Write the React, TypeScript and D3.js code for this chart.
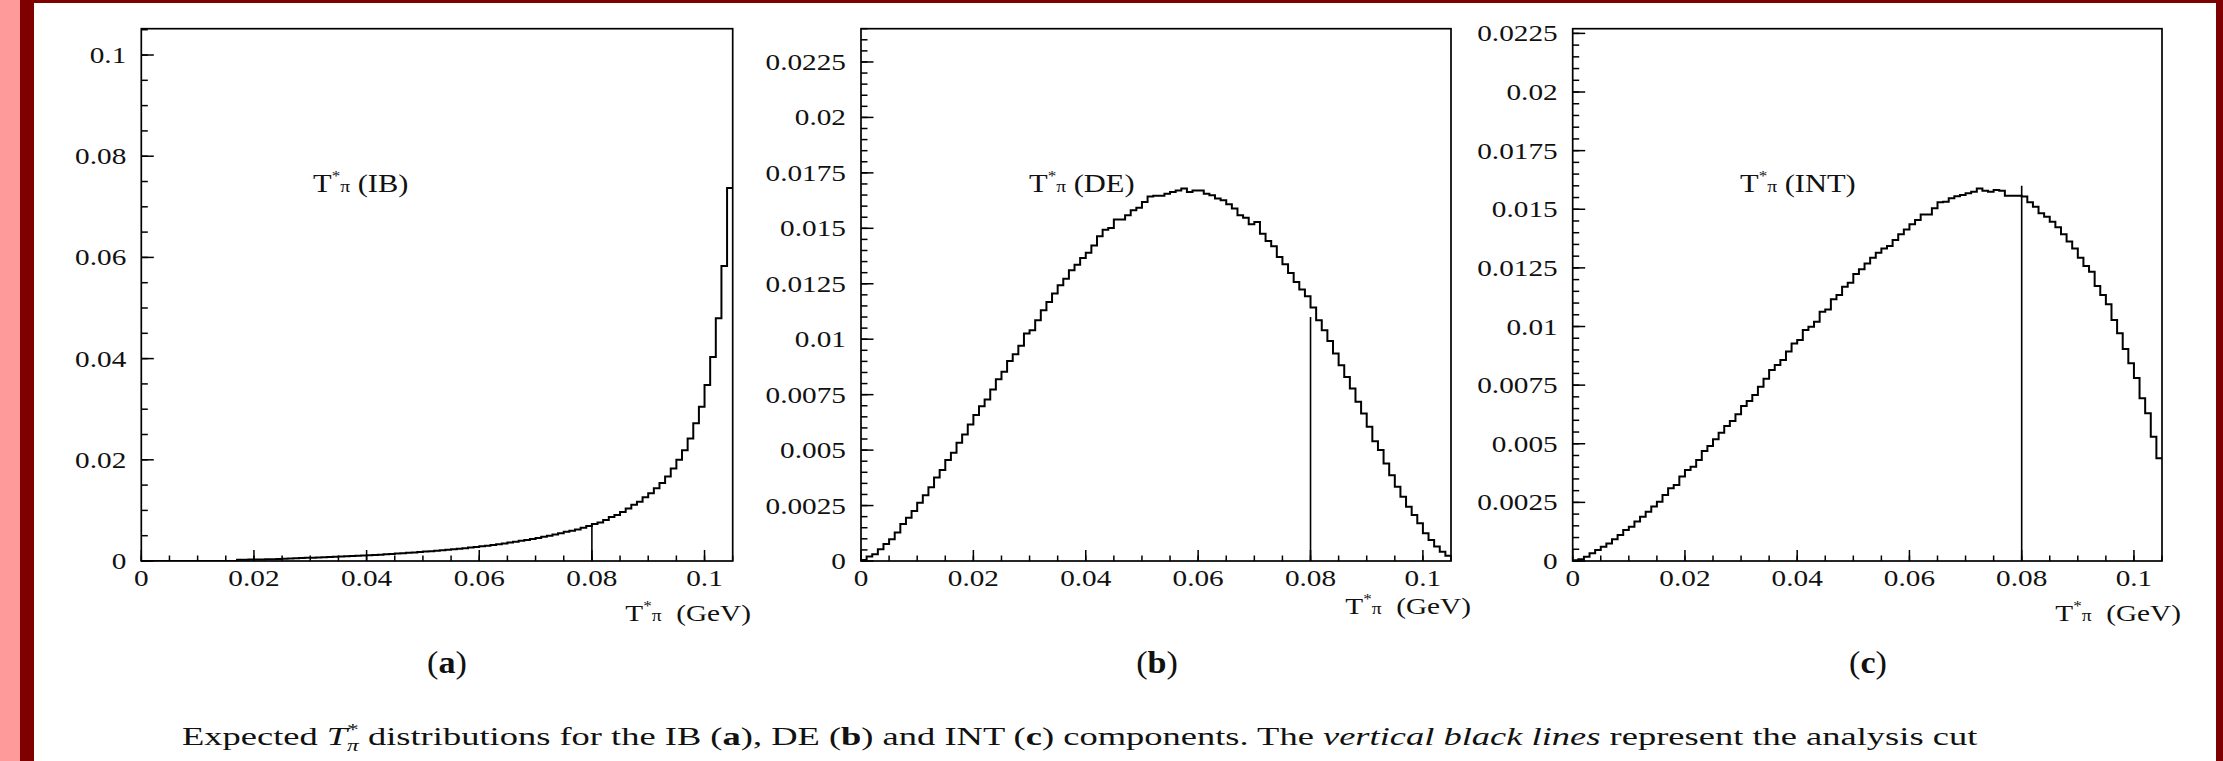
import React, { useRef, useLayoutEffect, useState } from "react";
import * as d3 from "d3";

// ---------------- data ----------------
const binWidth = 0.001; // GeV
const xTickValues = [0, 0.02, 0.04, 0.06, 0.08, 0.1];
const xTickLabels = ["0", "0.02", "0.04", "0.06", "0.08", "0.1"];

const ibYTicks = [0, 0.02, 0.04, 0.06, 0.08, 0.1];
const ibYLabels = ["0", "0.02", "0.04", "0.06", "0.08", "0.1"];
const smallYTicks = [0, 0.0025, 0.005, 0.0075, 0.01, 0.0125, 0.015, 0.0175, 0.02, 0.0225];
const smallYLabels = ["0", "0.0025", "0.005", "0.0075", "0.01", "0.0125", "0.015", "0.0175", "0.02", "0.0225"];

const ibValues = [
  0, 0, 0, 0, 0, 0, 0, 0, 0, 0,
  0, 0, 0, 0, 0, 0, 0, 0.00025, 0.00026, 0.00028,
  0.0003, 0.00032, 0.00034, 0.00037, 0.0004, 0.00043, 0.00047, 0.00055, 0.00058, 0.00062,
  0.00066, 0.0007, 0.00074, 0.00078, 0.00083, 0.00088, 0.00095, 0.001, 0.00105, 0.0011,
  0.00115, 0.0012, 0.00126, 0.00133, 0.0014, 0.00147, 0.00154, 0.00162, 0.0017, 0.00178,
  0.00186, 0.00194, 0.00203, 0.00212, 0.00222, 0.00232, 0.00243, 0.00254, 0.00266, 0.00278,
  0.0029, 0.00303, 0.00317, 0.00332, 0.00348, 0.00364, 0.0038, 0.00398, 0.00416, 0.00436,
  0.00456, 0.00478, 0.005, 0.00524, 0.0055, 0.00576, 0.006, 0.00625, 0.00655, 0.0069,
  0.0073, 0.0076, 0.0081, 0.0087, 0.0091, 0.0097, 0.0104, 0.0111, 0.0117, 0.0126,
  0.0134, 0.0144, 0.0154, 0.0167, 0.0183, 0.02, 0.0219, 0.0242, 0.0272, 0.0305,
  0.0348, 0.0403, 0.048, 0.0583, 0.0737,
];

const deValues = [
  0.00005, 0.0002, 0.0003, 0.00053, 0.00077, 0.00098, 0.00128, 0.00167, 0.00195, 0.00225,
  0.00263, 0.00297, 0.00332, 0.00377, 0.0041, 0.00455, 0.00488, 0.00533, 0.0057, 0.00616,
  0.00658, 0.00698, 0.00728, 0.00773, 0.0082, 0.00853, 0.00902, 0.00932, 0.0097, 0.01026,
  0.0104, 0.01086, 0.01131, 0.01168, 0.01206, 0.01243, 0.01273, 0.01311, 0.01336, 0.01366,
  0.0139, 0.01423, 0.01464, 0.01494, 0.01501, 0.0154, 0.0154, 0.01559, 0.01581, 0.01593,
  0.01619, 0.01644, 0.01647, 0.01647, 0.01656, 0.01664, 0.01671, 0.01679, 0.01664, 0.01671,
  0.01671, 0.01656, 0.01649, 0.01634, 0.01626, 0.01608, 0.01589, 0.01559, 0.01548, 0.01518,
  0.01528, 0.01476, 0.01443, 0.01419, 0.01371, 0.01338, 0.01299, 0.01258, 0.01224, 0.01194,
  0.01143, 0.01086, 0.0104, 0.00992, 0.00936, 0.00883, 0.0083, 0.00778, 0.00718, 0.00665,
  0.00605, 0.0054, 0.005, 0.0044, 0.00387, 0.00335, 0.0029, 0.00245, 0.00207, 0.0017,
  0.00125, 0.00095, 0.00065, 0.00042, 0.00024,
];

const intValues = [
  0.00003, 0.00007, 0.00018, 0.00033, 0.00047, 0.00061, 0.00075, 0.00093, 0.00111, 0.00132,
  0.00146, 0.00168, 0.00189, 0.0021, 0.00232, 0.00253, 0.00281, 0.0031, 0.00324, 0.0036,
  0.00388, 0.00402, 0.00431, 0.00469, 0.0049, 0.00519, 0.00547, 0.00576, 0.00597, 0.00626,
  0.00661, 0.00682, 0.00708, 0.00743, 0.00777, 0.00814, 0.00836, 0.00857, 0.00893, 0.00928,
  0.00942, 0.00985, 0.00999, 0.0102, 0.01063, 0.01073, 0.01116, 0.01134, 0.0117, 0.01187,
  0.01224, 0.01244, 0.01269, 0.01293, 0.01315, 0.01333, 0.01343, 0.01369, 0.01393, 0.01414,
  0.01436, 0.01454, 0.01478, 0.01478, 0.01504, 0.0153, 0.01532, 0.01547, 0.01556, 0.01561,
  0.01568, 0.01575, 0.01588, 0.01579, 0.01575, 0.01582, 0.01579, 0.01558, 0.01558, 0.01558,
  0.01554, 0.0153, 0.01511, 0.01483, 0.01468, 0.01447, 0.01423, 0.01393, 0.01362, 0.01333,
  0.01293, 0.01258, 0.01234, 0.01173, 0.01134, 0.01095, 0.01028, 0.00971, 0.00904, 0.00843,
  0.0078, 0.00694, 0.0063, 0.0053, 0.00438,
];

const cutX = 0.08;
const cutTops = [0.0073, 0.011, 0.016];
const panelTags = ["IB", "DE", "INT"];
const panelLetters = ["a", "b", "c"];

// ---------------- layout ----------------
const W = 2223;
const H = 761;
const FONT = "'Liberation Serif','Times New Roman',Times,serif";
const SX = 1.22;
const FRAME_TOP = 28.7;
const FRAME_BOT = 561;
const X_MAX = 0.105;

type PanelSpec = {
  x0: number; x1: number; yMax: number; values: number[];
  yTicks: number[]; yLabels: string[]; yMinor: number;
  cutTop: number; tag: string; tagX: number;
  titleRight: number; titleBase: number; letter: string; letterX: number;
};

const panels: PanelSpec[] = [
  { x0: 141.3, x1: 732.7, yMax: 0.1052, values: ibValues, yTicks: ibYTicks, yLabels: ibYLabels, yMinor: 0.005,
    cutTop: cutTops[0], tag: panelTags[0], tagX: 313, titleRight: 751, titleBase: 621, letter: panelLetters[0], letterX: 447 },
  { x0: 861, x1: 1451, yMax: 0.024, values: deValues, yTicks: smallYTicks, yLabels: smallYLabels, yMinor: 0.0005,
    cutTop: cutTops[1], tag: panelTags[1], tagX: 1029, titleRight: 1471, titleBase: 614, letter: panelLetters[1], letterX: 1157 },
  { x0: 1572.7, x1: 2162, yMax: 0.0227, values: intValues, yTicks: smallYTicks, yLabels: smallYLabels, yMinor: 0.0005,
    cutTop: cutTops[2], tag: panelTags[2], tagX: 1740, titleRight: 2181, titleBase: 621, letter: panelLetters[2], letterX: 1868 },
];

function Panel({ p }: { p: PanelSpec }) {
  const x = d3.scaleLinear().domain([0, X_MAX]).range([p.x0, p.x1]);
  const y = d3.scaleLinear().domain([0, p.yMax]).range([FRAME_BOT, FRAME_TOP]);
  const n = p.values.length;
  const pts: [number, number][] = [[0, 0]];
  p.values.forEach((v, i) => pts.push([i * binWidth, v]));
  pts.push([n * binWidth, p.values[n - 1]]);
  const line = d3.line<[number, number]>()
    .x((d) => x(d[0]))
    .y((d) => y(d[1]))
    .curve(d3.curveStepAfter);
  const minorY = d3.range(0, p.yMax + 1e-9, p.yMinor);
  const minorX = d3.range(0, X_MAX + 1e-9, 0.005);
  const clipId = `clip-${p.letter}`;
  return (
    <g>
      <defs>
        <clipPath id={clipId}>
          <rect x={p.x0} y={FRAME_TOP} width={p.x1 - p.x0} height={FRAME_BOT - FRAME_TOP} />
        </clipPath>
      </defs>
      {/* y ticks */}
      {minorY.map((v, i) => (
        <line key={`ym${i}`} x1={p.x0} x2={p.x0 + 6.5} y1={y(v)} y2={y(v)} stroke="#000" strokeWidth={1.5} />
      ))}
      {p.yTicks.map((v, i) => (
        <line key={`yM${i}`} x1={p.x0} x2={p.x0 + 12.5} y1={y(v)} y2={y(v)} stroke="#000" strokeWidth={1.5} />
      ))}
      {/* x ticks */}
      {minorX.map((v, i) => (
        <line key={`xm${i}`} x1={x(v)} x2={x(v)} y1={FRAME_BOT} y2={FRAME_BOT - 5.5} stroke="#000" strokeWidth={1.5} />
      ))}
      {xTickValues.map((v, i) => (
        <line key={`xM${i}`} x1={x(v)} x2={x(v)} y1={FRAME_BOT} y2={FRAME_BOT - 11} stroke="#000" strokeWidth={1.5} />
      ))}
      {/* histogram */}
      <path d={line(pts) || ""} fill="none" stroke="#000" strokeWidth={2} clipPath={`url(#${clipId})`} />
      {/* cut line */}
      <line x1={x(cutX)} x2={x(cutX)} y1={y(0)} y2={y(p.cutTop)} stroke="#000" strokeWidth={1.6} />
      {/* frame */}
      <rect x={p.x0} y={FRAME_TOP} width={p.x1 - p.x0} height={FRAME_BOT - FRAME_TOP} fill="none" stroke="#000" strokeWidth={1.7} />
      {/* y labels */}
      {p.yTicks.map((v, i) => (
        <text key={`yl${i}`} transform={`translate(${p.x0 - 15},${y(v) + 8}) scale(${SX},1)`}
          textAnchor="end" fontFamily={FONT} fontSize={24} fill="#111">{p.yLabels[i]}</text>
      ))}
      {/* x labels */}
      {xTickValues.map((v, i) => (
        <text key={`xl${i}`} transform={`translate(${x(v)},586) scale(${SX},1)`}
          textAnchor="middle" fontFamily={FONT} fontSize={24} fill="#111">{xTickLabels[i]}</text>
      ))}
      {/* axis title */}
      <text transform={`translate(${p.titleRight},${p.titleBase}) scale(${SX},1)`} textAnchor="end"
        fontFamily={FONT} fontSize={24} fill="#111" style={{ whiteSpace: "pre" }}>
        <tspan>T</tspan>
        <tspan fontSize={14} dy={-10}>*</tspan>
        <tspan fontSize={16} dy={10}>π</tspan>
        <tspan>{"  (GeV)"}</tspan>
      </text>
      {/* in-panel tag */}
      <text transform={`translate(${p.tagX},192) scale(${SX},1)`} fontFamily={FONT} fontSize={25} fill="#111"
        style={{ whiteSpace: "pre" }}>
        <tspan>T</tspan>
        <tspan fontSize={14} dy={-11}>*</tspan>
        <tspan fontSize={16} dy={11}>π</tspan>
        <tspan>{` (${p.tag})`}</tspan>
      </text>
      {/* sub-figure letter */}
      <text transform={`translate(${p.letterX},673) scale(1.1,1)`} textAnchor="middle" fontFamily={FONT}
        fontSize={31} fill="#111">
        <tspan>(</tspan><tspan fontWeight="bold">{p.letter}</tspan><tspan>)</tspan>
      </text>
    </g>
  );
}

export default function App() {
  const capRef = useRef<SVGTextElement>(null);
  const [capScale, setCapScale] = useState(1);
  const capLeft = 182;
  const capRight = 1978;
  useLayoutEffect(() => {
    if (capRef.current) {
      const w = capRef.current.getBBox().width;
      if (w > 0) setCapScale((capRight - capLeft) / w);
    }
  }, []);
  return (
    <svg width={W} height={H} viewBox={`0 0 ${W} ${H}`}
      style={{ position: "absolute", left: 0, top: 0, display: "block", background: "#fff" }}>
      <rect x={0} y={0} width={W} height={H} fill="#fff" />
      {/* page borders */}
      <rect x={0} y={0} width={20} height={H} fill="#ff9a9a" />
      <rect x={20} y={0} width={14} height={H} fill="#7f0000" />
      <rect x={34} y={0} width={W - 34} height={3} fill="#7f0000" />
      <rect x={2216} y={0} width={7} height={H} fill="#7f0000" />
      {panels.map((p) => <Panel key={p.letter} p={p} />)}
      {/* caption */}
      <text ref={capRef} transform={`translate(${capLeft},745) scale(${capScale},1)`} fontFamily={FONT}
        fontSize={25} fill="#111" style={{ whiteSpace: "pre" }}>
        <tspan>{"Expected "}</tspan>
        <tspan fontStyle="italic">T</tspan>
        <tspan fontSize={16} dy={-10}>*</tspan>
        <tspan fontSize={16} fontStyle="italic" dx={-8} dy={16}>π</tspan>
        <tspan dy={-6}>{" distributions for the IB ("}</tspan>
        <tspan fontWeight="bold">a</tspan>
        <tspan>{"), DE ("}</tspan>
        <tspan fontWeight="bold">b</tspan>
        <tspan>{") and INT ("}</tspan>
        <tspan fontWeight="bold">c</tspan>
        <tspan>{") components. The "}</tspan>
        <tspan fontStyle="italic">vertical black lines</tspan>
        <tspan>{" represent the analysis cut"}</tspan>
      </text>
    </svg>
  );
}
